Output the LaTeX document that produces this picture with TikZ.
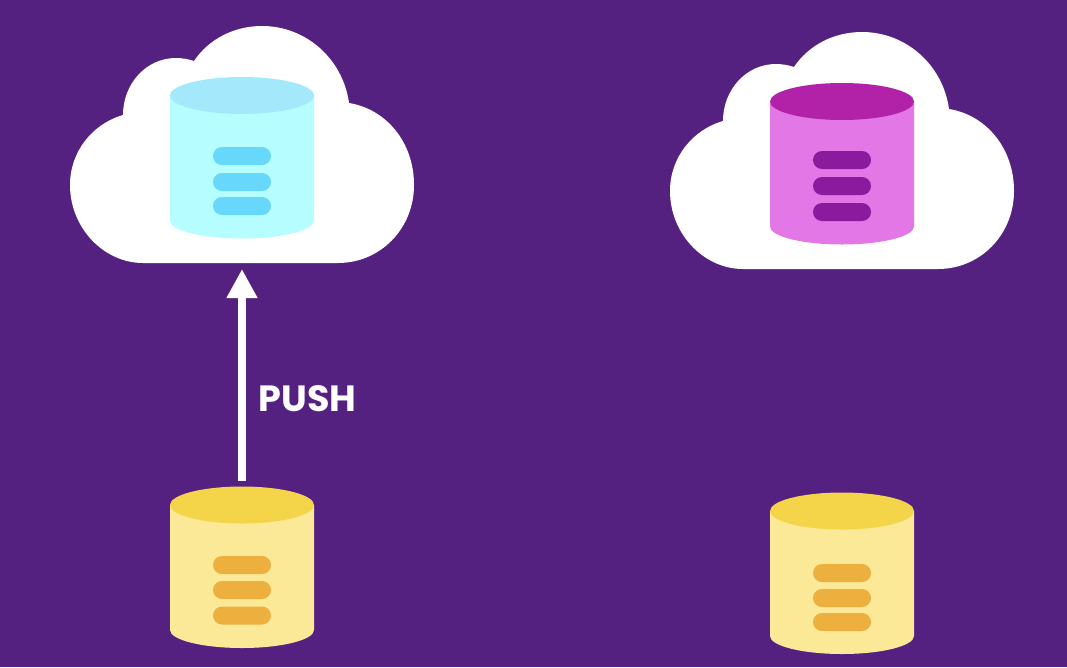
\documentclass[tikz,border=0pt]{standalone}
\usepackage{fontspec}
\setmainfont{Poppins}
\usetikzlibrary{arrows.meta}
\definecolor{bgpurple}{HTML}{552181}
\definecolor{cyanbody}{HTML}{B6FDFF}
\definecolor{cyantop}{HTML}{A3E8FB}
\definecolor{cyanbar}{HTML}{67D7FB}
\definecolor{pinkbody}{HTML}{E377E6}
\definecolor{pinktop}{HTML}{B122A8}
\definecolor{pinkbar}{HTML}{8C1A9C}
\definecolor{yelbody}{HTML}{FBE998}
\definecolor{yeltop}{HTML}{F4D549}
\definecolor{yelbar}{HTML}{EDB03E}
\newcommand{\dbbars}[5]{%
  \fill[#2,rounded corners=9pt] (#1,#3) rectangle ++(58,18);
  \fill[#2,rounded corners=9pt] (#1,#4) rectangle ++(58,18);
  \fill[#2,rounded corners=9pt] (#1,#5) rectangle ++(58,18);
}
\tikzset{
  cloudshape/.pic={
    \fill[white] (143,263) -- (338,263)
      .. controls (380,263) and (414,229) .. (414,185)
      .. controls (414,142) and (386,109) .. (349,103)
      .. controls (343,59) and (306,26) .. (262,26)
      .. controls (233,26) and (208,40) .. (194,61)
      .. controls (188,59) and (182,58) .. (176,58)
      .. controls (146,58) and (123,84) .. (123,115)
      .. controls (92,124) and (70,152) .. (70,185)
      .. controls (70,228) and (104,263) .. (143,263) -- cycle;
  },
  dbshape/.pic={
    \fill[dbbody] (170,95.5) -- (170,220.5)
      .. controls (170,230.4) and (202.2,238.5) .. (242,238.5)
      .. controls (281.8,238.5) and (314,230.4) .. (314,220.5)
      -- (314,95.5) -- cycle;
    \fill[dblid] (242,95.5) ellipse[x radius=72,y radius=18.5];
  },
  cyandb/.style={dbbody/.style={cyanbody},dblid/.style={cyantop}},
  pinkdb/.style={dbbody/.style={pinkbody},dblid/.style={pinktop}},
  yeldb/.style={dbbody/.style={yelbody},dblid/.style={yeltop}},
  pusharrow/.style={white,line width=8pt,-{Triangle[width=29pt,length=29pt]}},
  pushlabel/.style={text=white,font=\fontsize{36.5}{42}\selectfont\bfseries,inner sep=0pt}
}
\begin{document}
\begin{tikzpicture}[x=1pt,y=-1pt]
\path[use as bounding box,fill=bgpurple] (0,0) rectangle (1067,667);
\pic at (0,0) {cloudshape};
\pic[cyandb] at (0,0) {dbshape};
\dbbars{213}{cyanbar}{147}{173}{197}
\pic at (600,6) {cloudshape};
\pic[pinkdb] at (600,6) {dbshape};
\dbbars{813}{pinkbar}{151}{177}{203}
\pic[yeldb] at (0,409.5) {dbshape};
\dbbars{213}{yelbar}{556}{581}{606.5}
\pic[yeldb] at (600,415.5) {dbshape};
\dbbars{813}{yelbar}{564}{589}{613}
\coordinate (pushstart) at (242,481);
\coordinate (pushend) at (242,269);
\draw[pusharrow] (pushstart) -- (pushend);
\node[pushlabel] (push) at (307.5,398.5) {PUSH};
\end{tikzpicture}
\end{document}
